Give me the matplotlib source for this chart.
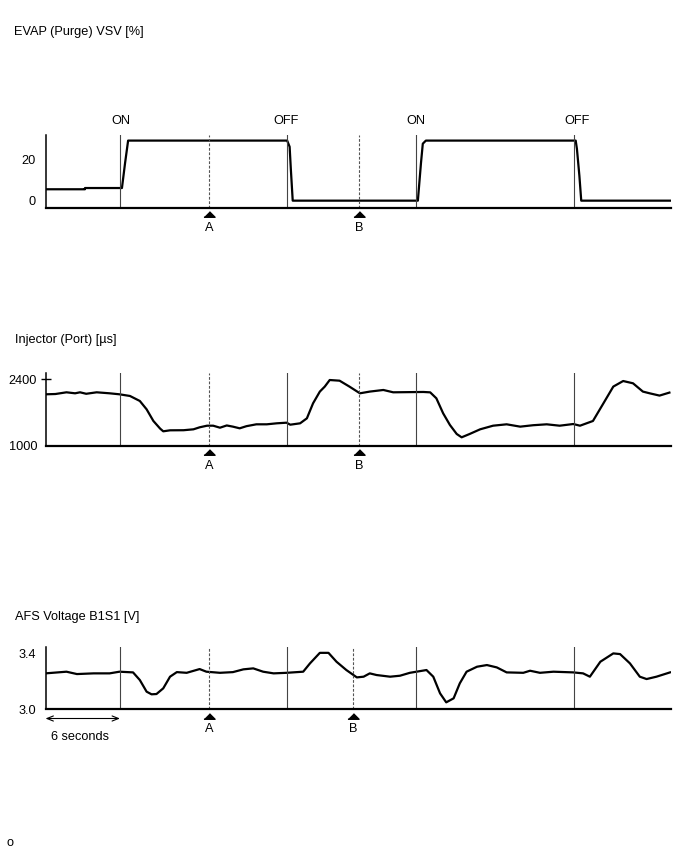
import matplotlib
matplotlib.use("Agg")
import matplotlib.pyplot as plt
from matplotlib.transforms import offset_copy

plt.rcParams['font.family'] = ['Liberation Sans', 'DejaVu Sans']
plt.rcParams['font.size'] = 9.2

# event times (seconds)
switch_t = [6.04, 19.61, 30.05, 42.89]
switch_lbl = ["ON", "OFF", "ON", "OFF"]
switch_lbl_t = [6.1, 19.5, 30.0, 43.1]
mark_t = {"A": 13.28, "B": 25.45}
mark_t_afs = {"A": 13.28, "B": 24.96}
t_end = 50.73

# EVAP purge VSV [%]
evap_t = [0, 3.2, 3.2, 6.2, 6.45, 6.7, 19.6, 19.8, 19.9, 20.05, 30.2, 30.45,
          30.6, 30.85, 43.0, 43.1, 43.3, 43.45, 50.7]
evap_v = [5.5, 5.5, 6.1, 6.1, 18, 29, 29, 26, 15, 0, 0, 18,
          27.5, 29, 29, 25, 12, 0, 0]

# injector (port) [us]
inj_t = [0, 0.8, 1.7, 2.4, 2.8, 3.3, 4.15, 5.2, 6.0, 6.85, 7.65, 8.2, 8.75,
         9.3, 9.55, 10.1, 11.2, 12.0, 12.5, 13.1, 13.6, 14.15, 14.7, 15.2,
         15.75, 16.3, 17.1, 17.95, 18.75, 19.55, 19.85, 20.65, 21.2, 21.7,
         22.25, 22.65, 23.05, 23.85, 24.65, 25.5, 26.3, 27.4, 28.2, 30.65,
         31.2, 31.7, 32.25, 32.8, 33.35, 33.75, 34.4, 35.25, 36.3, 37.4, 38.5,
         39.55, 40.65, 41.7, 42.8, 43.35, 44.4, 45.25, 46.05, 46.85, 47.65,
         48.45, 49.0, 49.8, 50.6]
inj_v = [2079, 2085, 2121, 2100, 2121, 2090, 2121, 2100, 2079, 2044, 1939,
         1764, 1519, 1358, 1302, 1323, 1325, 1344, 1386, 1420, 1420, 1378,
         1425, 1400, 1365, 1410, 1449, 1449, 1470, 1483, 1441, 1470, 1575,
         1890, 2136, 2241, 2379, 2365, 2241, 2100, 2136, 2170, 2121, 2128,
         2120, 1995, 1680, 1435, 1246, 1176, 1246, 1344, 1420, 1449, 1400,
         1430, 1449, 1420, 1455, 1420, 1519, 1890, 2241, 2358, 2310, 2136,
         2100, 2052, 2115]

# AFS voltage B1S1 [V]
afs_t = [0, 1.7, 2.55, 3.9, 5.2, 6.0, 7.1, 7.65, 8.2, 8.6, 9.0, 9.55, 10.1,
         10.65, 11.45, 12.5, 13.05, 14.15, 15.2, 16.05, 16.85, 17.65, 18.5,
         19.55, 20.9, 21.45, 22.25, 22.95, 23.6, 24.4, 25.25, 25.8, 26.3,
         26.85, 27.95, 28.75, 29.55, 30.9, 31.45, 32.0, 32.5, 33.1, 33.6,
         34.15, 35.0, 35.8, 36.6, 37.4, 38.75, 39.3, 40.1, 41.2, 42.8, 43.6,
         44.15, 45.0, 46.05, 46.6, 47.4, 48.2, 48.75, 49.55, 50.65]
afs_v = [3.257, 3.269, 3.252, 3.257, 3.257, 3.269, 3.264, 3.209, 3.125,
         3.106, 3.108, 3.149, 3.233, 3.266, 3.261, 3.288, 3.269, 3.261, 3.266,
         3.286, 3.293, 3.269, 3.257, 3.261, 3.269, 3.329, 3.405, 3.405, 3.341,
         3.281, 3.228, 3.233, 3.257, 3.245, 3.233, 3.240, 3.261, 3.281, 3.233,
         3.113, 3.048, 3.077, 3.185, 3.269, 3.305, 3.317, 3.300, 3.264, 3.261,
         3.276, 3.261, 3.269, 3.264, 3.257, 3.233, 3.341, 3.401, 3.396, 3.329,
         3.233, 3.216, 3.233, 3.264]

fig = plt.figure(figsize=(6.88, 8.52), dpi=100)
W, H = 688.0, 852.0
tri = [(-1, -0.5), (1, -0.5), (0, 0.5)]


def panel(top_px, bot_px, t, v, ylim, yticks, yticklabels, marks, tickmark=False):
    ax = fig.add_axes([45.5 / W, 1 - bot_px / H, 625.5 / W, (bot_px - top_px) / H])
    ax.plot(t, v, color="black", lw=1.6, solid_joinstyle="round")
    ax.set_xlim(0, t_end)
    ax.set_ylim(*ylim)
    for s in ["top", "right"]:
        ax.spines[s].set_visible(False)
    ax.spines["left"].set_linewidth(1.1)
    ax.spines["bottom"].set_linewidth(1.6)
    ax.set_xticks([])
    ax.set_yticks(yticks)
    ax.set_yticklabels(yticklabels)
    ax.tick_params(axis="y", length=0, pad=7)
    if tickmark:
        ax.tick_params(axis="y", length=7, width=1, direction="inout", pad=2.5)
        ax.yaxis.get_major_ticks()[0].tick1line.set_visible(False)
    for st in switch_t:
        ax.axvline(st, color="#444444", lw=0.8)
    for name, mt in marks.items():
        ax.axvline(mt, color="#555555", lw=0.8, ls=(0, (2.5, 1.5)))
        tr = offset_copy(ax.get_xaxis_transform(), fig=fig, y=-6.5, units="dots")
        ax.plot([mt], [0], transform=tr, marker=tri, ms=8, color="black", clip_on=False)
        ax.annotate(name, xy=(mt, 0), xycoords=ax.get_xaxis_transform(),
                    xytext=(0, -20.5 * 0.72), textcoords="offset points",
                    ha="center", va="center")
    return ax


ax1 = panel(135, 207.7, evap_t, evap_v, (-3.4, 31.7), [0, 20], ["0", "20"], mark_t)
for lt, lb in zip(switch_lbl_t, switch_lbl):
    ax1.annotate(lb, xy=(lt, 1), xycoords=ax1.get_xaxis_transform(),
                 xytext=(0, 14.5 * 0.72), textcoords="offset points",
                 ha="center", va="center")

ax2 = panel(373.3, 445.7, inj_t, inj_v, (1000, 2520), [1000, 2400], ["1000", "2400"],
            mark_t, tickmark=True)

ax3 = panel(647.3, 709, afs_t, afs_v, (3.0, 3.445), [3.0, 3.4], ["3.0", "3.4"], mark_t_afs)
arrow_tr = offset_copy(ax3.get_xaxis_transform(), fig=fig, y=-9.5, units="dots")
ax3.annotate("", xy=(0, 0), xycoords=arrow_tr,
             xytext=(switch_t[0], 0), textcoords=arrow_tr,
             arrowprops=dict(arrowstyle="<->,head_length=0.5,head_width=0.2",
                             lw=0.8, color="black", shrinkA=0, shrinkB=0),
             annotation_clip=False)
ax3.annotate("6 seconds", xy=(2.8, 0), xycoords=ax3.get_xaxis_transform(),
             xytext=(0, -27.5 * 0.72), textcoords="offset points",
             ha="center", va="center")

fig.text(14 / W, 1 - 32 / H, "EVAP (Purge) VSV [%]", ha="left", va="center")
fig.text(15 / W, 1 - 340 / H, "Injector (Port) [µs]", ha="left", va="center")
fig.text(15 / W, 1 - 617 / H, "AFS Voltage B1S1 [V]", ha="left", va="center")
fig.text(10 / W, 1 - 843 / H, "o", ha="center", va="center")

fig.savefig("out.png", dpi=100)
